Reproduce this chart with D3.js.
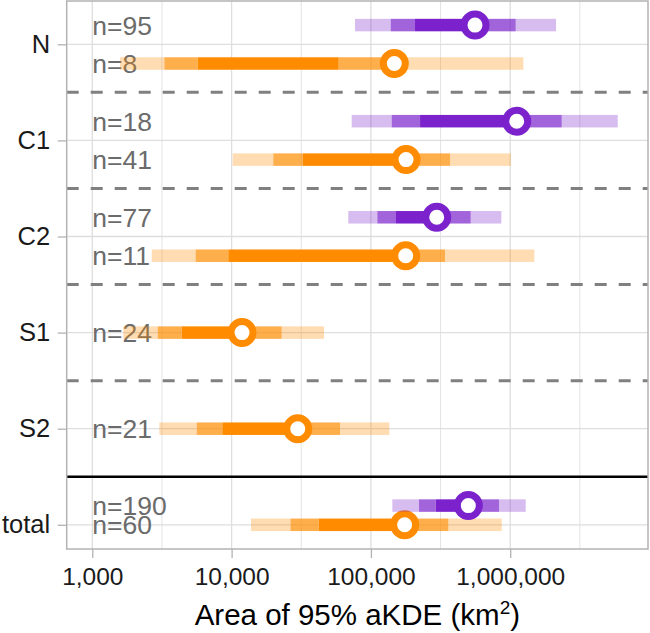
<!DOCTYPE html>
<html>
<head>
<meta charset="utf-8">
<script src="https://cdn.jsdelivr.net/npm/d3@7"></script>
<style>
  body { margin: 0; background: #fff; }
  text { font-family: "Liberation Sans", Arial, sans-serif; }
</style>
</head>
<body>
<div id="chart"></div>
<script>
// groups on the y axis, top to bottom
const groups = ["N", "C1", "C2", "S1", "S2", "total"];

// each interval row: [lo95, lo80, lo50, estimate, hi50, hi80, hi95]  (km^2)
const purpleGroups = ["N", "C1", "C2", "total"];
const purpleN = [95, 18, 77, 190];
const purpleValues = [
    [76900, 138700, 207300, 558700, 650000, 1095000, 2132000],
    [72800, 141000, 225300, 1113000, 1270000, 2343000, 5911000],
    [68800, 111200, 151400, 296700, 340000, 520400, 863000],
    [142500, 221500, 291900, 500300, 587000, 831000, 1292000]
];

const orangeGroups = ["N", "C1", "C2", "S1", "S2", "total"];
const orangeN = [8, 41, 11, 24, 21, 60];
const orangeValues = [
    [1580, 3290, 5710, 147200, 58700, 161800, 1242000],
    [10180, 19920, 32400, 178700, 197000, 369700, 1013000],
    [2670, 5520, 9470, 177700, 195000, 340400, 1489000],
    [1670, 2950, 4380, 11880, 13500, 22880, 46060],
    [3030, 5620, 8580, 29830, 33600, 60000, 135500],
    [13780, 26470, 42200, 174600, 195000, 359600, 868900]
];

const xMajor = [1000, 10000, 100000, 1000000];
const xMinor = [3162, 31623, 316228, 3162278];

// row offsets inside each group (fraction of a group step), layout only
const purpleOffset = {N: -0.2, C1: -0.2, C2: -0.2, total: -0.2};
const orangeOffset = {N: 0.2, C1: 0.2, C2: 0.2, S1: 0, S2: 0, total: 0};

const purple = "#7b22cc";
const orange = "#ff8c00";

const width = 650;
const height = 633;
const panel = {left: 66.7, right: 648, top: 1, bottom: 549};

const svg = d3.select("#chart").append("svg")
    .attr("width", width)
    .attr("height", height);

const x = d3.scaleLog()
    .domain([655, 9.75e6])
    .range([panel.left, panel.right]);

const y = d3.scalePoint()
    .domain(groups)
    .range([44.3, 524.8]);
const step = y.step();

// grid
const grid = svg.append("g");
grid.selectAll(".minor")
    .data(xMinor)
    .enter()
    .append("line")
    .attr("x1", d => x(d)).attr("x2", d => x(d))
    .attr("y1", panel.top).attr("y2", panel.bottom)
    .attr("stroke", "#e3e3e3")
    .attr("stroke-width", 1);
grid.selectAll(".major")
    .data(xMajor)
    .enter()
    .append("line")
    .attr("x1", d => x(d)).attr("x2", d => x(d))
    .attr("y1", panel.top).attr("y2", panel.bottom)
    .attr("stroke", "#dedede")
    .attr("stroke-width", 1.3);
grid.selectAll(".hgrid")
    .data(groups)
    .enter()
    .append("line")
    .attr("x1", panel.left).attr("x2", panel.right)
    .attr("y1", d => y(d)).attr("y2", d => y(d))
    .attr("stroke", "#dedede")
    .attr("stroke-width", 1.3);

// separators between groups
const seps = groups.slice(1).map((g, i) => (y(groups[i]) + y(g)) / 2);
svg.selectAll(".sep")
    .data(seps)
    .enter()
    .append("line")
    .attr("x1", panel.left).attr("x2", panel.right)
    .attr("y1", d => d).attr("y2", d => d)
    .attr("stroke", (d, i) => i === seps.length - 1 ? "#000" : "#808080")
    .attr("stroke-width", (d, i) => i === seps.length - 1 ? 2.6 : 3)
    .attr("stroke-dasharray", (d, i) => i === seps.length - 1 ? null : "12,12");

// n labels
function drawLabels(groupsArr, nArr, offsets) {
    svg.append("g").selectAll("text")
        .data(groupsArr)
        .enter()
        .append("text")
        .attr("x", x(1000))
        .attr("y", d => y(d) + offsets[d] * step)
        .attr("dy", "0.36em")
        .attr("font-size", 26.5)
        .attr("fill", "#6b6b6b")
        .text((d, i) => "n=" + nArr[i]);
}

function drawIntervals(groupsArr, values, offsets, color) {
    const barH = 12.5;
    const g = svg.append("g");
    groupsArr.forEach((grp, i) => {
        const v = values[i];
        const cy = y(grp) + offsets[grp] * step;
        const pieces = [
            [v[0], v[1], 0.3], [v[5], v[6], 0.3],
            [v[1], v[2], 0.7], [v[4], v[5], 0.7],
            [v[2], v[4], 1]
        ];
        g.selectAll(null)
            .data(pieces)
            .enter()
            .append("rect")
            .attr("x", d => x(d[0]))
            .attr("width", d => Math.max(0, x(d[1]) - x(d[0])))
            .attr("y", cy - barH / 2)
            .attr("height", barH)
            .attr("fill", color)
            .attr("fill-opacity", d => d[2]);
        g.append("circle")
            .attr("cx", x(v[3]))
            .attr("cy", cy)
            .attr("r", 11)
            .attr("fill", "#fff")
            .attr("stroke", color)
            .attr("stroke-width", 7);
    });
}

drawLabels(purpleGroups, purpleN, purpleOffset);
drawLabels(orangeGroups, orangeN, orangeOffset);
drawIntervals(orangeGroups, orangeValues, orangeOffset, orange);
drawIntervals(purpleGroups, purpleValues, purpleOffset, purple);

// panel border
svg.append("rect")
    .attr("x", panel.left).attr("y", panel.top)
    .attr("width", panel.right - panel.left)
    .attr("height", panel.bottom - panel.top)
    .attr("fill", "none")
    .attr("stroke", "#b3b3b3")
    .attr("stroke-width", 1.5);

// axes
const xAxis = svg.append("g")
    .attr("transform", `translate(0, ${panel.bottom})`)
    .call(d3.axisBottom(x).tickValues(xMajor).tickFormat(d3.format(",")).tickSize(9).tickPadding(9.5));
xAxis.select(".domain").remove();
xAxis.selectAll("line").attr("stroke", "#b3b3b3").attr("stroke-width", 1.3);
xAxis.selectAll("text")
    .attr("font-size", 24.5)
    .attr("fill", "#1a1a1a")
    .style("font-family", "'Liberation Sans', Arial, sans-serif");

const yAxis = svg.append("g")
    .attr("transform", `translate(${panel.left}, 0)`)
    .call(d3.axisLeft(y).tickSize(9).tickPadding(7.5));
yAxis.select(".domain").remove();
yAxis.selectAll("line").attr("stroke", "#b3b3b3").attr("stroke-width", 1.3);
yAxis.selectAll("text")
    .attr("font-size", 25.5)
    .attr("fill", "#1a1a1a")
    .style("font-family", "'Liberation Sans', Arial, sans-serif");

// axis title
const title = svg.append("text")
    .attr("x", (panel.left + panel.right) / 2)
    .attr("y", 625)
    .attr("text-anchor", "middle")
    .attr("font-size", 29.5)
    .attr("fill", "#000");
title.append("tspan").text("Area of 95% aKDE (km");
title.append("tspan").attr("font-size", 19).attr("dy", -11).text("2");
title.append("tspan").attr("dy", 11).text(")");
</script>
</body>
</html>
